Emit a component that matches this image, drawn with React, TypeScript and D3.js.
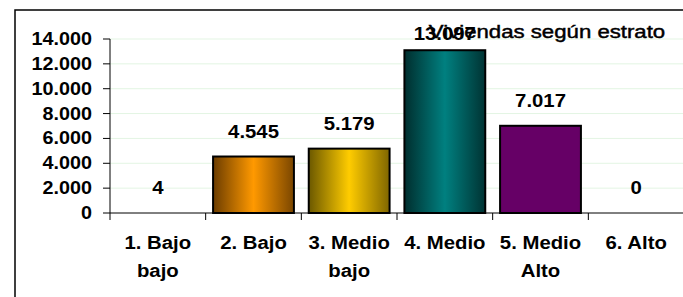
import { useMemo } from 'react';
import * as d3 from 'd3';

const categories = ['1. Bajo bajo', '2. Bajo', '3. Medio bajo', '4. Medio', '5. Medio Alto', '6. Alto'];
const categoryLines = [['1. Bajo', 'bajo'], ['2. Bajo'], ['3. Medio', 'bajo'], ['4. Medio'], ['5. Medio', 'Alto'], ['6. Alto']];
const values = [4, 4545, 5179, 13097, 7017, 0];
const yTicks = [0, 2000, 4000, 6000, 8000, 10000, 12000, 14000];
const title = 'Viviendas según estrato';

// gradient stops per bar: [edge-left, centre, edge-right]
const barColors = [
  ['#993333', '#ff6666', '#993333'],
  ['#6b3c00', '#ff9900', '#7a4600'],
  ['#6b5800', '#ffcc00', '#806600'],
  ['#002e2e', '#008080', '#003333'],
  ['#660066', '#660066', '#660066'],
  ['#333399', '#6666ff', '#333399'],
];

const W = 683;
const H = 297;
const FONT = '"Liberation Sans", Arial, sans-serif';
const SX = 1.13; // the source chart text is stretched a bit horizontally

const locale = d3.formatLocale({ decimal: ',', thousands: '.', grouping: [3], currency: ['$', ''] });
const fmt = locale.format(',');

const App = () => {
  const margin = { left: 110, right: -1, top: 39, bottom: 84 };

  const xScale = useMemo(() => d3.scaleBand<string>()
    .domain(categories)
    .range([margin.left, W - margin.right])
    .padding(0), []);

  const yScale = useMemo(() => d3.scaleLinear()
    .domain([0, 14000])
    .range([H - margin.bottom, margin.top]), []);

  const bw = xScale.bandwidth();
  const barW = bw * 0.845;
  const y0 = yScale(0);

  const stretched = (x: number, y: number, s = SX) => `translate(${x},${y}) scale(${s},1)`;

  return (
    <div style={{ position: 'absolute', left: 0, top: 0 }}>
      <svg width={W} height={H} style={{ display: 'block', background: '#fff' }}>
        <defs>
          {barColors.map((c, i) => (
            <linearGradient key={i} id={`grad${i}`} x1="0" x2="1" y1="0" y2="0">
              <stop offset="0%" stopColor={c[0]} />
              <stop offset="50%" stopColor={c[1]} />
              <stop offset="100%" stopColor={c[2]} />
            </linearGradient>
          ))}
        </defs>

        {/* frame */}
        <rect x={15} y={10} width={W} height={H} fill="none" stroke="#000" strokeWidth={1.5} />

        {/* gridlines */}
        {yTicks.filter(t => t > 0).map(t => (
          <line key={t} x1={margin.left} x2={W} y1={yScale(t)} y2={yScale(t)} stroke="#e3f5e3" strokeWidth={1} />
        ))}

        {/* bars */}
        {values.map((v, i) => {
          const x = (xScale(categories[i]) as number) + (bw - barW) / 2;
          const y = yScale(v);
          const h = y0 - y;
          if (h < 1) return null;
          return (
            <rect key={i} x={x} y={y} width={barW} height={h}
              fill={`url(#grad${i})`} stroke="#000" strokeWidth={2} />
          );
        })}

        {/* y axis */}
        <line x1={margin.left} x2={margin.left} y1={yScale(14000)} y2={y0} stroke="#000" strokeWidth={1} />
        {yTicks.map(t => (
          <g key={t}>
            <line x1={margin.left - 7} x2={margin.left} y1={yScale(t)} y2={yScale(t)} stroke="#000" />
            <text transform={stretched(92, yScale(t) + 6)} textAnchor="end"
              fontFamily={FONT} fontWeight="bold" fontSize={17.5} fill="#000">{fmt(t)}</text>
          </g>
        ))}

        {/* x axis */}
        <line x1={margin.left} x2={W} y1={y0} y2={y0} stroke="#000" strokeWidth={1} />
        {categories.map(c => (
          <line key={c} x1={xScale(c)} x2={xScale(c)} y1={y0} y2={y0 + 7} stroke="#000" />
        ))}
        {categories.map((c, i) => {
          const cx = (xScale(c) as number) + bw / 2;
          return categoryLines[i].map((ln, j) => (
            <text key={c + j} transform={stretched(cx, 249 + j * 28)} textAnchor="middle"
              fontFamily={FONT} fontWeight="bold" fontSize={18} fill="#000">{ln}</text>
          ));
        })}

        {/* value labels */}
        {values.map((v, i) => {
          const cx = (xScale(categories[i]) as number) + bw / 2;
          const ly = Math.max(yScale(v) - 19, yScale(14000) + 1);
          return (
            <text key={i} transform={stretched(cx, ly)} textAnchor="middle"
              fontFamily={FONT} fontWeight="bold" fontSize={18} fill="#000">{fmt(v)}</text>
          );
        })}

        {/* title (drawn over the top label, as in the source) */}
        <text transform={stretched(547, 38, 1.2)} textAnchor="middle"
          fontFamily={FONT} fontSize={18.5} fill="#000" stroke="#000" strokeWidth={0.45}>{title}</text>
      </svg>
    </div>
  );
};

export default App;
